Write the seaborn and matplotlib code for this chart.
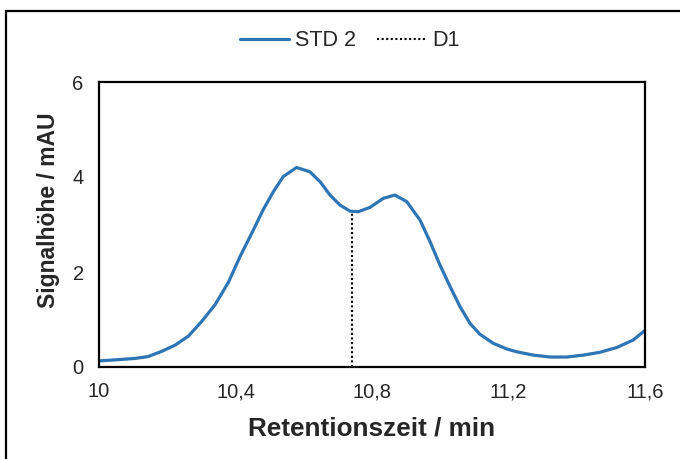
import numpy as np
import matplotlib
matplotlib.use('Agg')
import matplotlib.pyplot as plt
import seaborn as sn
import pandas as pd
from matplotlib.patches import Rectangle
from matplotlib.ticker import FuncFormatter

# STD 2 chromatogram
time_min = [10.003, 10.047, 10.105, 10.144, 10.184, 10.223, 10.262, 10.301, 10.340, 10.379,
            10.413, 10.452, 10.481, 10.511, 10.540, 10.579, 10.618, 10.648, 10.677, 10.706,
            10.736, 10.760, 10.794, 10.833, 10.867, 10.902, 10.941, 10.970, 10.999, 11.029,
            11.058, 11.087, 11.116, 11.155, 11.195, 11.224, 11.273, 11.322, 11.371, 11.419,
            11.468, 11.517, 11.566, 11.598]
signal_mau = [0.13, 0.15, 0.18, 0.22, 0.33, 0.46, 0.65, 0.96, 1.31, 1.78,
              2.32, 2.88, 3.31, 3.69, 4.01, 4.20, 4.11, 3.90, 3.62, 3.41,
              3.28, 3.27, 3.36, 3.55, 3.62, 3.48, 3.09, 2.64, 2.15, 1.69,
              1.27, 0.92, 0.69, 0.50, 0.38, 0.32, 0.25, 0.21, 0.21, 0.25,
              0.31, 0.41, 0.57, 0.76]

# D1 marker (vertical dotted line at the valley)
d1_x = [10.74, 10.74]
d1_y = [0.0, 3.27]

df = pd.DataFrame({'Retentionszeit': time_min, 'Signal': signal_mau})

sn.set_style('white')
plt.rcParams['font.family'] = ['Liberation Sans', 'DejaVu Sans']

fig = plt.figure(figsize=(6.8, 4.59), dpi=100)
ax = fig.add_axes([99 / 680, 1 - 367 / 459, 546 / 680, 285 / 459])

sn.lineplot(data=df, x='Retentionszeit', y='Signal', ax=ax, color='#2E75B6',
            linewidth=2.3, label='STD 2', solid_joinstyle='round', solid_capstyle='round')
ax.plot(d1_x, d1_y, color='black', linestyle=(0, (1, 1.2)), linewidth=1.5, label='D1')

ax.set_xlim(10, 11.6)
ax.set_ylim(0, 6)
ax.set_xticks([10, 10.4, 10.8, 11.2, 11.6])
ax.set_yticks([0, 2, 4, 6])
ax.xaxis.set_major_formatter(FuncFormatter(lambda v, p: ('%g' % round(v, 1)).replace('.', ',')))
ax.tick_params(direction='in', length=5, width=0.8, color='#808080', labelsize=14.5,
               labelcolor='#262626')
ax.tick_params(axis='x', pad=11)
ax.tick_params(axis='y', pad=11)
for s in ax.spines.values():
    s.set_color('black')
    s.set_linewidth(1.6)

ax.set_xlabel('Retentionszeit / min', fontsize=18.8, fontweight='bold', labelpad=11)
ax.set_ylabel('Signalhöhe / mAU', fontsize=16.5, fontweight='bold')
ax.yaxis.set_label_coords(-0.0714, 0.549)

ax.legend(loc='center', bbox_to_anchor=(349.5 / 680, 1 - 41 / 459), bbox_transform=fig.transFigure,
          ncol=2, frameon=False, fontsize=15.5, handlelength=2.27, columnspacing=1.0,
          handletextpad=0.28)

fig.patches.append(Rectangle((6 / 680, -0.05), 1.0, 1 - 11 / 459 + 0.05, transform=fig.transFigure,
                             fill=False, edgecolor='black', linewidth=1.6))

plt.savefig('out.png', dpi=100)
plt.close(fig)
